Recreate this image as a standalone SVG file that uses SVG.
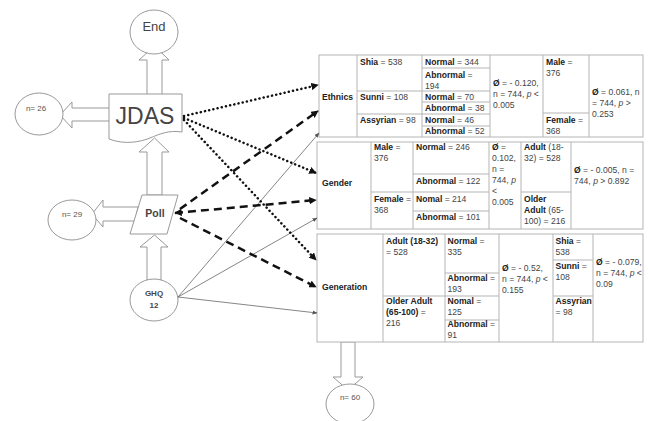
<svg xmlns="http://www.w3.org/2000/svg" width="648" height="421" viewBox="0 0 648 421">
<defs>
<marker id="ah" viewBox="0 0 10 10" refX="9" refY="5" markerWidth="3" markerHeight="3" orient="auto-start-reverse"><path d="M0,0 L10,5 L0,10 z" fill="#111"/></marker>
<marker id="ahs" viewBox="0 0 10 10" refX="9" refY="5" markerWidth="5" markerHeight="5" markerUnits="userSpaceOnUse" orient="auto"><path d="M0,1 L10,5 L0,9 z" fill="#555"/></marker>
</defs>
<style>
.blk{fill:#fff;stroke:#999;stroke-width:1}
.shape{fill:#fff;stroke:#999;stroke-width:1}
.tb{fill:#fff;stroke:#b5b5b5;stroke-width:1}
.ln{stroke:#b5b5b5;stroke-width:1}
text{font-family:"Liberation Sans",Arial,sans-serif;fill:#444}
.t{font-size:8.6px}
.b{font-weight:bold;fill:#222}
.lbl{font-size:8px;fill:#555;text-anchor:middle}
.dot{fill:none;stroke:#111;stroke-width:2.5;stroke-dasharray:0.1 4.2;stroke-linecap:round}
.dash{fill:none;stroke:#111;stroke-width:2.5;stroke-dasharray:8 5}
.thin{fill:none;stroke:#666;stroke-width:0.8}
</style>

<g id="block-arrows">
<path class="blk" d="M147,96 V60 H139 L154.5,46 L169,60 H162 V96 Z"/>
<path class="blk" d="M147,195 V152 H139 L154.5,138 L169,152 H162 V195 Z"/>
<path class="blk" d="M147,280 V247 H140 L154.5,235 L168,247 H161 V280 Z"/>
<path class="blk" d="M110,108 H72 V102 L60,115 L72,128 V121 H110 Z"/>
<path class="blk" d="M138,207 H103 V200 L92,214 L103,227 V221 H135 Z"/>
<path class="blk" d="M341,342 V377 H333 L348,390 L363,377 H355 V342 Z"/>
</g>

<g id="end">
<ellipse class="shape" cx="154" cy="32" rx="24" ry="22"/>
<text x="154" y="31" font-size="13" text-anchor="middle" fill="#333">End</text>
</g>
<g id="n26">
<ellipse class="shape" cx="39" cy="114" rx="24" ry="21"/>
<text class="lbl" x="36" y="111">n= 26</text>
</g>
<g id="jdas">
<path class="shape" d="M109,94 H182 V132 C168,130 160,134 150,138 C140,142 125,145 109,139 Z"/>
<text x="145" y="124" font-size="23" text-anchor="middle" fill="#111">JDAS</text>
</g>
<g id="n29">
<ellipse class="shape" cx="72" cy="220" rx="24" ry="20"/>
<text class="lbl" x="72" y="217">n= 29</text>
</g>
<g id="poll">
<path class="shape" d="M142,195 H178 L167,234 H130 Z"/>
<text x="155" y="217" font-size="10.5" font-weight="bold" text-anchor="middle" fill="#222">Poll</text>
</g>
<g id="ghq12">
<ellipse class="shape" cx="154" cy="300" rx="24" ry="21"/>
<text x="154" y="296" font-size="8" font-weight="bold" text-anchor="middle" fill="#333">GHQ</text>
<text x="154" y="308" font-size="8" font-weight="bold" text-anchor="middle" fill="#333">12</text>
</g>
<g id="n60">
<ellipse class="shape" cx="350" cy="404" rx="24" ry="20"/>
<text class="lbl" x="350" y="400">n= 60</text>
</g>

<g id="ethnics">
<rect class="tb" x="319" y="55" width="324" height="82"/>
<line class="ln" x1="357" y1="55" x2="357" y2="137"/>
<line class="ln" x1="422" y1="55" x2="422" y2="137"/>
<line class="ln" x1="490" y1="55" x2="490" y2="137"/>
<line class="ln" x1="543" y1="55" x2="543" y2="137"/>
<line class="ln" x1="589" y1="55" x2="589" y2="137"/>
<line class="ln" x1="357" y1="91" x2="490" y2="91"/>
<line class="ln" x1="357" y1="114" x2="490" y2="114"/>
<line class="ln" x1="422" y1="68" x2="490" y2="68"/>
<line class="ln" x1="422" y1="102" x2="490" y2="102"/>
<line class="ln" x1="422" y1="126" x2="490" y2="126"/>
<line class="ln" x1="543" y1="113" x2="589" y2="113"/>
<text class="t b" x="322" y="100">Ethnics</text>
<text class="t" x="360" y="65"><tspan class="b">Shia</tspan> = 538</text>
<text class="t" x="360" y="100"><tspan class="b">Sunni</tspan> = 108</text>
<text class="t" x="360" y="123"><tspan class="b">Assyrian</tspan> = 98</text>
<text class="t" x="425" y="65"><tspan class="b">Normal</tspan> = 344</text>
<text class="t" x="425" y="78"><tspan class="b">Abnormal</tspan> =</text>
<text class="t" x="425" y="89">194</text>
<text class="t" x="425" y="100"><tspan class="b">Normal</tspan> = 70</text>
<text class="t" x="425" y="111"><tspan class="b">Abnormal</tspan> = 38</text>
<text class="t" x="425" y="123"><tspan class="b">Normal</tspan> = 46</text>
<text class="t" x="425" y="134"><tspan class="b">Abnormal</tspan> = 52</text>
<text class="t" x="493" y="86"><tspan class="b">Ø</tspan> = - 0.120,</text>
<text class="t" x="493" y="97">n = 744, <tspan font-style="italic">p</tspan> &lt;</text>
<text class="t" x="493" y="108">0.005</text>
<text class="t" x="546" y="65"><tspan class="b">Male</tspan> =</text>
<text class="t" x="546" y="76">376</text>
<text class="t" x="546" y="123"><tspan class="b">Female</tspan> =</text>
<text class="t" x="546" y="134">368</text>
<text class="t" x="592" y="95"><tspan class="b">Ø</tspan> = 0.061, n</text>
<text class="t" x="592" y="106">= 744, <tspan font-style="italic">p</tspan> &gt;</text>
<text class="t" x="592" y="117">0.253</text>
</g>

<g id="gender">
<rect class="tb" x="317" y="142" width="326" height="87"/>
<line class="ln" x1="371" y1="142" x2="371" y2="229"/>
<line class="ln" x1="413" y1="142" x2="413" y2="229"/>
<line class="ln" x1="489" y1="142" x2="489" y2="229"/>
<line class="ln" x1="521" y1="142" x2="521" y2="229"/>
<line class="ln" x1="571" y1="142" x2="571" y2="229"/>
<line class="ln" x1="371" y1="192" x2="489" y2="192"/>
<line class="ln" x1="413" y1="174" x2="489" y2="174"/>
<line class="ln" x1="413" y1="211" x2="489" y2="211"/>
<line class="ln" x1="521" y1="192" x2="571" y2="192"/>
<text class="t b" x="322" y="186">Gender</text>
<text class="t" x="374" y="150"><tspan class="b">Male</tspan> =</text>
<text class="t" x="374" y="161">376</text>
<text class="t" x="374" y="202"><tspan class="b">Female</tspan> =</text>
<text class="t" x="374" y="213">368</text>
<text class="t" x="416" y="150"><tspan class="b">Normal</tspan> = 246</text>
<text class="t" x="416" y="184"><tspan class="b">Abnormal</tspan> = 122</text>
<text class="t" x="416" y="202"><tspan class="b">Nomal</tspan> = 214</text>
<text class="t" x="416" y="220"><tspan class="b">Abnormal</tspan> = 101</text>
<text class="t" x="492" y="150"><tspan class="b">Ø</tspan> =</text>
<text class="t" x="492" y="161">0.102,</text>
<text class="t" x="492" y="172">n =</text>
<text class="t" x="492" y="183">744, <tspan font-style="italic">p</tspan></text>
<text class="t" x="492" y="194">&lt;</text>
<text class="t" x="492" y="205">0.005</text>
<text class="t" x="524" y="150"><tspan class="b">Adult</tspan> (18-</text>
<text class="t" x="524" y="161">32) = 528</text>
<text class="t b" x="524" y="202">Older</text>
<text class="t" x="524" y="213"><tspan class="b">Adult</tspan> (65-</text>
<text class="t" x="524" y="224">100) = 216</text>
<text class="t" x="574" y="173"><tspan class="b">Ø</tspan> = - 0.005, n =</text>
<text class="t" x="574" y="184">744, <tspan font-style="italic">p</tspan> &gt; 0.892</text>
</g>

<g id="generation">
<rect class="tb" x="317" y="234" width="326" height="108"/>
<line class="ln" x1="383" y1="234" x2="383" y2="342"/>
<line class="ln" x1="445" y1="234" x2="445" y2="342"/>
<line class="ln" x1="499" y1="234" x2="499" y2="342"/>
<line class="ln" x1="553" y1="234" x2="553" y2="342"/>
<line class="ln" x1="593" y1="234" x2="593" y2="342"/>
<line class="ln" x1="383" y1="296" x2="499" y2="296"/>
<line class="ln" x1="445" y1="273" x2="499" y2="273"/>
<line class="ln" x1="445" y1="320" x2="499" y2="320"/>
<line class="ln" x1="553" y1="260" x2="593" y2="260"/>
<line class="ln" x1="553" y1="296" x2="593" y2="296"/>
<text class="t b" x="322" y="290">Generation</text>
<text class="t b" x="386" y="244">Adult (18-32)</text>
<text class="t" x="386" y="255">= 528</text>
<text class="t b" x="386" y="304">Older Adult</text>
<text class="t" x="386" y="315"><tspan class="b">(65-100)</tspan> =</text>
<text class="t" x="386" y="326">216</text>
<text class="t" x="447.5" y="244"><tspan class="b">Normal</tspan> =</text>
<text class="t" x="447.5" y="255">335</text>
<text class="t" x="447.5" y="281"><tspan class="b">Abnormal</tspan> =</text>
<text class="t" x="447.5" y="292">193</text>
<text class="t" x="447.5" y="304"><tspan class="b">Nomal</tspan> =</text>
<text class="t" x="447.5" y="315">125</text>
<text class="t" x="447.5" y="327"><tspan class="b">Abnormal</tspan> =</text>
<text class="t" x="447.5" y="338">91</text>
<text class="t" x="502" y="271"><tspan class="b">Ø</tspan> = - 0.52,</text>
<text class="t" x="502" y="282">n = 744, <tspan font-style="italic">p</tspan> &lt;</text>
<text class="t" x="502" y="293">0.155</text>
<text class="t" x="555.5" y="244"><tspan class="b">Shia</tspan> =</text>
<text class="t" x="555.5" y="255">538</text>
<text class="t" x="555.5" y="269"><tspan class="b">Sunni</tspan> =</text>
<text class="t" x="555.5" y="280">108</text>
<text class="t b" x="555.5" y="304">Assyrian</text>
<text class="t" x="555.5" y="315">= 98</text>
<text class="t" x="596" y="265"><tspan class="b">Ø</tspan> = - 0.079,</text>
<text class="t" x="596" y="276">n = 744, <tspan font-style="italic">p</tspan> &lt;</text>
<text class="t" x="596" y="287">0.09</text>
</g>

<g id="connectors">
<line class="thin" x1="178" y1="297" x2="319" y2="133" marker-end="url(#ahs)"/>
<line class="thin" x1="178" y1="297" x2="317" y2="218" marker-end="url(#ahs)"/>
<line class="thin" x1="178" y1="297" x2="317" y2="313" marker-end="url(#ahs)"/>
<line class="dot" x1="184" y1="116" x2="318" y2="85" marker-end="url(#ah)"/>
<line class="dot" x1="184" y1="118" x2="316" y2="173" marker-end="url(#ah)"/>
<line class="dot" x1="184" y1="120" x2="316" y2="260" marker-end="url(#ah)"/>
<line class="dash" x1="180" y1="209" x2="318" y2="111" marker-end="url(#ah)"/>
<line class="dash" x1="175" y1="213" x2="316" y2="200" marker-start="url(#ah)" marker-end="url(#ah)"/>
<line class="dash" x1="180" y1="218" x2="316" y2="287" marker-end="url(#ah)"/>
</g>
</svg>
